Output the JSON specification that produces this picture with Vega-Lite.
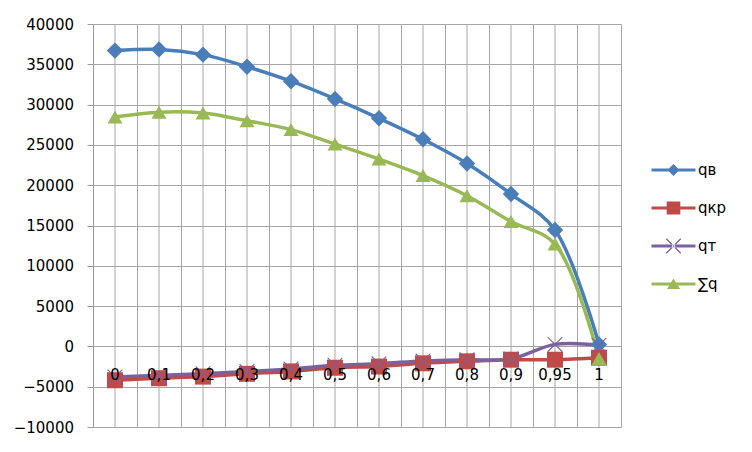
{
  "$schema": "https://vega.github.io/schema/vega-lite/v6.json",
  "autosize": "none",
  "width": 528,
  "height": 403,
  "padding": {"left": 93, "top": 24, "right": 131, "bottom": 25},
  "background": "white",
  "config": {
    "view": {"stroke": null},
    "font": "DejaVu Sans"
  },
  "data": {
    "values": [
      {"x": "0", "series": "qв", "q": 36700},
      {"x": "0,1", "series": "qв", "q": 36850},
      {"x": "0,2", "series": "qв", "q": 36200},
      {"x": "0,3", "series": "qв", "q": 34700},
      {"x": "0,4", "series": "qв", "q": 32900},
      {"x": "0,5", "series": "qв", "q": 30700},
      {"x": "0,6", "series": "qв", "q": 28300},
      {"x": "0,7", "series": "qв", "q": 25700},
      {"x": "0,8", "series": "qв", "q": 22700},
      {"x": "0,9", "series": "qв", "q": 18900},
      {"x": "0,95", "series": "qв", "q": 14450},
      {"x": "1", "series": "qв", "q": 250},
      {"x": "0", "series": "qкр", "q": -4200},
      {"x": "0,1", "series": "qкр", "q": -3950},
      {"x": "0,2", "series": "qкр", "q": -3750},
      {"x": "0,3", "series": "qкр", "q": -3400},
      {"x": "0,4", "series": "qкр", "q": -3100},
      {"x": "0,5", "series": "qкр", "q": -2650},
      {"x": "0,6", "series": "qкр", "q": -2500},
      {"x": "0,7", "series": "qкр", "q": -2100},
      {"x": "0,8", "series": "qкр", "q": -1850},
      {"x": "0,9", "series": "qкр", "q": -1650},
      {"x": "0,95", "series": "qкр", "q": -1650},
      {"x": "1", "series": "qкр", "q": -1400},
      {"x": "0", "series": "qт", "q": -3800},
      {"x": "0,1", "series": "qт", "q": -3600},
      {"x": "0,2", "series": "qт", "q": -3400},
      {"x": "0,3", "series": "qт", "q": -3100},
      {"x": "0,4", "series": "qт", "q": -2800},
      {"x": "0,5", "series": "qт", "q": -2350},
      {"x": "0,6", "series": "qт", "q": -2150},
      {"x": "0,7", "series": "qт", "q": -1800},
      {"x": "0,8", "series": "qт", "q": -1650},
      {"x": "0,9", "series": "qт", "q": -1550},
      {"x": "0,95", "series": "qт", "q": 250},
      {"x": "1", "series": "qт", "q": 150},
      {"x": "0", "series": "∑q", "q": 28450},
      {"x": "0,1", "series": "∑q", "q": 29050},
      {"x": "0,2", "series": "∑q", "q": 28950},
      {"x": "0,3", "series": "∑q", "q": 28000},
      {"x": "0,4", "series": "∑q", "q": 26900},
      {"x": "0,5", "series": "∑q", "q": 25100},
      {"x": "0,6", "series": "∑q", "q": 23250},
      {"x": "0,7", "series": "∑q", "q": 21200},
      {"x": "0,8", "series": "∑q", "q": 18700},
      {"x": "0,9", "series": "∑q", "q": 15500},
      {"x": "0,95", "series": "∑q", "q": 12700},
      {"x": "1", "series": "∑q", "q": -1500}
    ]
  },
  "resolve": {"axis": {"x": "independent"}, "scale": {"shape": "independent", "color": "independent"}},
  "layer": [
    {
      "transform": [{"aggregate": [{"op": "count", "as": "n"}], "groupby": ["x"]}],
      "mark": {"type": "rule", "color": "#a6a6a6", "strokeWidth": 1},
      "encoding": {
        "x": {
          "field": "x",
          "type": "ordinal",
          "sort": null,
          "scale": {"type": "band", "paddingInner": 0, "paddingOuter": 0,
            "domain": ["0", "0,1", "0,2", "0,3", "0,4", "0,5", "0,6", "0,7", "0,8", "0,9", "0,95", "1"]},
          "axis": {
            "orient": "bottom",
            "title": null,
            "grid": true,
            "gridColor": "#a6a6a6",
            "gridOpacity": 1,
            "tickBand": "extent",
            "ticks": false,
            "domain": false,
            "labels": false
          }
        }
      }
    },
    {
      "mark": {"type": "line", "interpolate": "catmull-rom", "strokeWidth": 3.5},
      "encoding": {
        "x": {
          "field": "x",
          "type": "ordinal",
          "sort": null,
          "axis": {
            "orient": "bottom",
            "title": null,
            "grid": false,
            "ticks": false,
            "domain": false,
            "labelAngle": 0,
            "labelFont": "DejaVu Sans",
            "labelFontSize": 15,
            "labelColor": "#000000",
            "labelPadding": 21,
            "offset": -80.6,
            "zindex": 1
          }
        },
        "y": {
          "field": "q",
          "type": "quantitative",
          "scale": {"domain": [-10000, 40000], "nice": false, "zero": false},
          "axis": {
            "title": null,
            "values": [-10000, -5000, 0, 5000, 10000, 15000, 20000, 25000, 30000, 35000, 40000],
            "format": "d",
            "grid": true,
            "gridColor": "#a6a6a6",
            "gridOpacity": 1,
            "domainColor": "#9a9a9a",
            "tickColor": "#9a9a9a",
            "tickSize": 6,
            "labelPadding": 13.5,
            "labelFont": "DejaVu Sans",
            "labelFontSize": 15,
            "labelColor": "#000000"
          }
        },
        "color": {
          "field": "series",
          "type": "nominal",
          "sort": null,
          "scale": {"domain": ["qв", "qкр", "qт", "∑q"], "range": ["#4A7EBB", "#BE4B48", "#7D60A0", "#98B954"]},
          "legend": null
        }
      }
    },
    {
      "mark": {"type": "point", "filled": true, "opacity": 1, "strokeWidth": 0},
      "encoding": {
        "x": {"field": "x", "type": "ordinal", "sort": null, "axis": null},
        "y": {"field": "q", "type": "quantitative"},
        "color": {
          "field": "series",
          "type": "nominal",
          "sort": null,
          "scale": {"domain": ["qв", "qкр", "qт", "∑q"], "range": ["#4A7EBB", "#BE4B48", "#7D60A0", "#98B954"]},
          "legend": null
        },
        "shape": {
          "field": "series",
          "type": "nominal",
          "scale": {"domain": ["qв", "qкр", "qт", "∑q"], "range": ["diamond", "square", "M-1,-0.9L0.9,1L1,0.9L-0.9,-1Z M-1,0.9L-0.9,1L1,-0.9L0.9,-1Z", "triangle-up"]},
          "legend": null
        },
        "size": {
          "field": "series",
          "type": "nominal",
          "scale": {"domain": ["qв", "qкр", "qт", "∑q"], "range": [270, 225, 270, 290]},
          "legend": null
        }
      }
    },
    {
      "mark": {"type": "point", "filled": true, "opacity": 0, "strokeWidth": 0},
      "encoding": {
        "x": {"field": "x", "type": "ordinal", "sort": null, "axis": null},
        "y": {"field": "q", "type": "quantitative"},
        "color": {
          "field": "series",
          "type": "nominal",
          "sort": null,
          "scale": {"domain": ["qв", "qкр", "qт", "∑q"], "range": ["#4A7EBB", "#BE4B48", "#7D60A0", "#98B954"]},
          "legend": {
            "title": null,
            "orient": "none",
            "legendX": 569.5,
            "legendY": 135,
            "padding": 0,
            "symbolSize": 484,
            "symbolOpacity": 1,
            "symbolStrokeWidth": 0,
            "rowPadding": 19,
            "labelOffset": 13.5,
            "labelFont": "DejaVu Sans",
            "labelFontSize": 15,
            "labelColor": "#000000"
          }
        },
        "shape": {
          "field": "series",
          "type": "nominal",
          "scale": {"domain": ["qв", "qкр", "qт", "∑q"], "range": [
            "M-2,-0.14H2V0.14H-2Z M0,-0.55L0.55,0L0,0.55L-0.55,0Z",
            "M-2,-0.14H2V0.14H-2Z M-0.62,-0.58H0.62V0.58H-0.62Z",
            "M-2,-0.14H2V0.14H-2Z M-0.7,-0.62L0.62,0.7L0.7,0.62L-0.62,-0.7Z M-0.7,0.62L-0.62,0.7L0.7,-0.62L0.62,-0.7Z",
            "M-2,-0.14H2V0.14H-2Z M0,-0.5L0.6,0.45L-0.6,0.45Z"
          ]},
          "legend": {
            "title": null,
            "orient": "none",
            "legendX": 569.5,
            "legendY": 135,
            "padding": 0,
            "symbolSize": 484,
            "symbolOpacity": 1,
            "symbolStrokeWidth": 0,
            "rowPadding": 19,
            "labelOffset": 13.5,
            "labelFont": "DejaVu Sans",
            "labelFontSize": 15,
            "labelColor": "#000000"
          }
        }
      }
    }
  ]
}
